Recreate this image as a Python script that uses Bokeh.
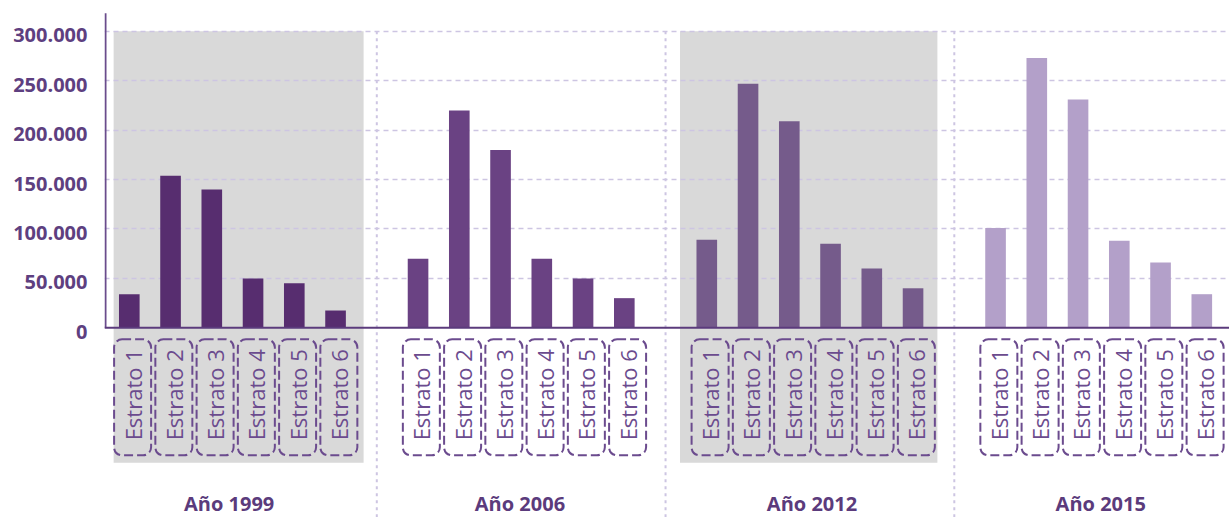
import math
from bokeh.plotting import figure
from bokeh.models import (ColumnDataSource, Range1d, LinearAxis, FixedTicker, Grid,
                          CustomJSTickFormatter, Span)
from bokeh.core.properties import value
from bokeh.embed import file_html
from bokeh.resources import INLINE

# ---------------- data ----------------
years = ["Año 1999", "Año 2006", "Año 2012", "Año 2015"]
estratos = ["Estrato 1", "Estrato 2", "Estrato 3", "Estrato 4", "Estrato 5", "Estrato 6"]
valores_1999 = [34000, 154000, 140000, 50000, 45000, 17500]
valores_2006 = [70000, 220000, 180000, 70000, 50000, 30000]
valores_2012 = [89000, 247000, 209000, 85000, 60000, 40000]
valores_2015 = [101000, 273000, 231000, 88000, 66000, 34000]
y_ticks = [0, 50000, 100000, 150000, 200000, 250000, 300000]

series = [valores_1999, valores_2006, valores_2012, valores_2015]
bar_colors = ["#572d6f", "#6a4283", "#755b8b", "#b3a0c9"]
shaded_groups = [0, 2]

# ---------------- layout ----------------
W, H = 1229, 517
FRAME_LEFT = 104
FRAME_W = W - FRAME_LEFT
PX_PER_UNIT = 41.25
GROUP = 7
X_START = -(128.8 - FRAME_LEFT) / PX_PER_UNIT
X_END = X_START + FRAME_W / PX_PER_UNIT
Y_PER_PX = 1012.0
ZERO_PX = 327.3
Y_END = ZERO_PX * Y_PER_PX
Y_START = -(H - ZERO_PX) * Y_PER_PX
Y_TOP = max(y_ticks)
AXIS_TOP = 318400
LABEL_SHIFT = 4 * Y_PER_PX


def below(px):
    return -px * Y_PER_PX


SHADE_SPANS = {0: (-0.38, 5.68), 2: (-0.65, 5.59)}
YEAR_LABEL_SHIFT = [-0.08, -0.03, 0.05, 0.05]

p = figure(width=W, height=H, output_backend="svg", toolbar_location=None,
           x_range=Range1d(X_START, X_END), y_range=Range1d(Y_START, Y_END),
           x_axis_location=None, y_axis_location=None, title=None,
           min_border_left=FRAME_LEFT, min_border_right=0, min_border_top=0,
           min_border_bottom=0, background_fill_color="white",
           border_fill_color="white")
p.outline_line_color = None
p.grid.visible = False
p.extra_y_ranges = {"lab": Range1d(Y_START + LABEL_SHIFT, Y_END + LABEL_SHIFT)}

# shaded panels
for g in shaded_groups:
    l, r = SHADE_SPANS[g]
    p.quad(left=[g * GROUP + l], right=[g * GROUP + r], top=[Y_TOP], bottom=[below(135)],
           fill_color="#d9d9d9", line_color=None, level="image")

# grid
grid = Grid(dimension=1, ticker=FixedTicker(ticks=y_ticks[1:]),
            grid_line_color="#cdc5e2", grid_line_width=1.5, grid_line_dash="5 4")
p.add_layout(grid)

# separators
seps = [g * GROUP + 6 for g in range(len(years) - 1)]
p.segment(x0=seps, y0=[Y_TOP] * len(seps), x1=seps, y1=[Y_START] * len(seps),
          line_color="#cdc5e2", line_width=2, line_dash="3 4")

# bars
xs, tops, cols, labx, labt = [], [], [], [], []
for g, vals in enumerate(series):
    for s, v in enumerate(vals):
        xs.append(g * GROUP + s)
        tops.append(v)
        cols.append(bar_colors[g])
        labx.append(g * GROUP + s + 0.08)
        labt.append(estratos[s])
src = ColumnDataSource(dict(x=xs, top=tops, color=cols))
p.vbar(x="x", top="top", bottom=0, width=0.5, fill_color="color", line_color=None, source=src)

# stratum label boxes
lsrc = ColumnDataSource(dict(x=labx, text=labt))
p.rect(x="x", y=below(69.5), width=37, height=116, width_units="screen",
       height_units="screen", fill_color=None, line_color="#6b4b8e", line_width=2,
       line_dash="9 4", border_radius=8, source=lsrc)
p.text(x="x", y=below(67), text="text", angle=math.pi / 2, text_align="center",
       text_baseline="middle", text_font=value("Open Sans"), text_font_size="22px",
       text_color="#6b4b8e", source=lsrc)

# year labels
ysrc = ColumnDataSource(dict(x=[g * GROUP + 2.5 + YEAR_LABEL_SHIFT[g] for g in range(len(years))],
                             text=years))
p.text(x="x", y=below(175.3), text="text", text_align="center", text_baseline="middle",
       text_font=value("Open Sans"), text_font_style="bold", text_font_size="20px",
       text_color="#5b3b7c", source=ysrc)

# x baseline
p.add_layout(Span(location=0, dimension="width", line_color="#5b3b7c", line_width=2))

# y axis line (drawn just inside the frame's left edge)
axis_x = X_START + 1.0 / PX_PER_UNIT
p.segment(x0=[axis_x], y0=[0], x1=[axis_x], y1=[AXIS_TOP], line_color="#6a4c8c", line_width=2)

# y axis tick labels
yax = LinearAxis(ticker=FixedTicker(ticks=y_ticks), y_range_name="lab")
yax.formatter = CustomJSTickFormatter(code="""
    return Math.round(tick).toString().replace(/\\B(?=(\\d{3})+(?!\\d))/g, '.');
""")
yax.axis_line_color = None
yax.major_tick_line_color = None
yax.minor_tick_line_color = None
yax.major_tick_out = 0
yax.major_tick_in = 0
yax.major_label_standoff = 17
yax.major_label_text_font = "Open Sans"
yax.major_label_text_font_style = "bold"
yax.major_label_text_font_size = "20px"
yax.major_label_text_color = "#5e3f80"
p.add_layout(yax, "left")

open("out.html", "w").write(file_html(p, INLINE))
